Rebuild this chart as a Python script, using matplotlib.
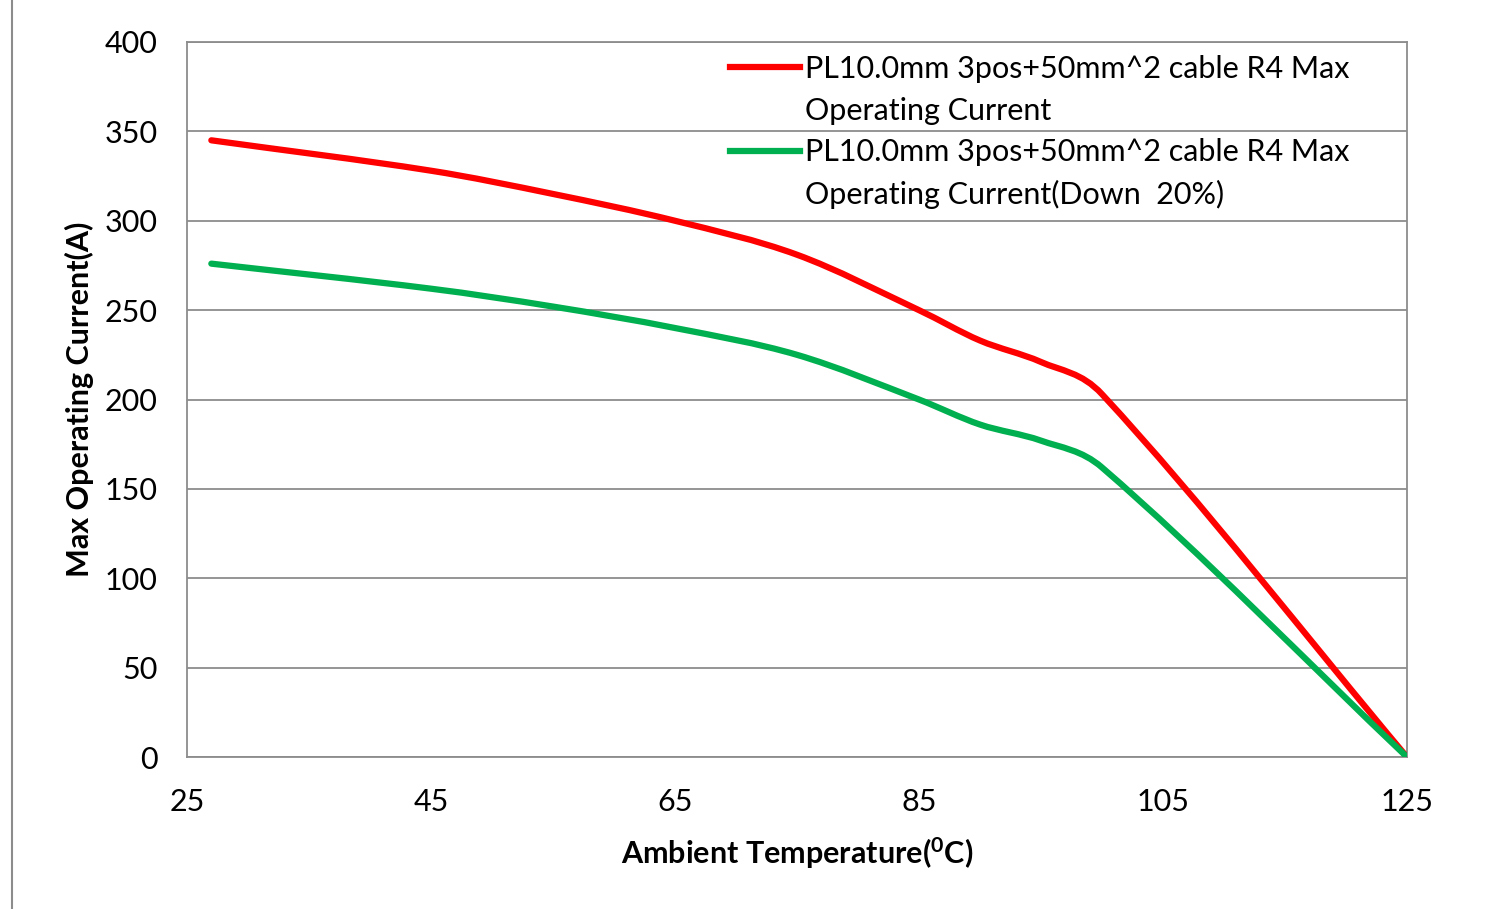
import numpy as np
import matplotlib.pyplot as plt
from matplotlib.path import Path
from matplotlib.patches import PathPatch
from matplotlib.lines import Line2D

plt.rcParams['font.family'] = ['Lato', 'DejaVu Sans']
plt.rcParams['mathtext.default'] = 'regular'

temps = [27, 45, 55, 65, 75, 85, 90, 95, 100, 125]
max_current = [345, 328, 315, 300, 281, 250, 233, 221, 203, 0]
down_20 = [276, 262, 252, 240, 225, 200, 186, 177, 162, 0]

label_a = 'PL10.0mm 3pos+50mm^2 cable R4 Max'
label_b = ['Operating Current', 'Operating Current(Down  20%)']
colors = ['#ff0000', '#00b050']


def smooth_path(xs, ys):
    # monotone-in-x bezier through the points (excel-like smoothing)
    xs = np.asarray(xs, float)
    ys = np.asarray(ys, float)
    n = len(xs)
    m = np.zeros(n)
    for i in range(n):
        a = max(i - 1, 0)
        b = min(i + 1, n - 1)
        m[i] = (ys[b] - ys[a]) / (xs[b] - xs[a])
    verts = [(xs[0], ys[0])]
    codes = [Path.MOVETO]
    for i in range(n - 1):
        h = (xs[i + 1] - xs[i]) / 3.0
        verts += [(xs[i] + h, ys[i] + m[i] * h),
                  (xs[i + 1] - h, ys[i + 1] - m[i + 1] * h),
                  (xs[i + 1], ys[i + 1])]
        codes += [Path.CURVE4] * 3
    return Path(verts, codes)


fig = plt.figure(figsize=(14.99, 9.09), dpi=100)
ax = fig.add_axes([0.1247, 0.1672, 0.8139, 0.7866])

for ys, c in zip([max_current, down_20], colors):
    ax.add_patch(PathPatch(smooth_path(temps, ys), fill=False, edgecolor=c,
                           lw=4.5, capstyle='round', joinstyle='round', zorder=3))

ax.set_xlim(25, 125)
ax.set_ylim(0, 400)
ax.set_xticks(range(25, 126, 20))
ax.set_yticks(range(0, 401, 50))
ax.grid(axis='y', color='#8c8c8c', lw=1.3)
ax.set_axisbelow(True)
for s in ax.spines.values():
    s.set_color('#8c8c8c')
    s.set_linewidth(1.3)
ax.tick_params(length=0, labelsize=22, colors='black')
ax.tick_params(axis='y', pad=21)
ax.tick_params(axis='x', pad=22)

ax.set_xlabel('Ambient Temperature($^{0}$C)', fontsize=22, fontweight='bold', labelpad=14)
ax.set_ylabel('Max Operating Current(A)', fontsize=22, fontweight='bold', labelpad=8)

blank = Line2D([], [], color='none')
handles = [Line2D([], [], color=colors[0], lw=4.5), blank,
           Line2D([], [], color=colors[1], lw=4.5), blank]
labels = [label_a, label_b[0], label_a, label_b[1]]
leg = ax.legend(handles, labels, loc='upper left', bbox_to_anchor=(0.445, 0.982),
                frameon=False, fontsize=22, handlelength=2.3, handletextpad=0.15,
                labelspacing=0.45, borderpad=0, borderaxespad=0)

fig.add_artist(Line2D([0.008, 0.008], [0.0, 1.0], color='#8c8c8c', lw=1.5))

fig.savefig('out.png', dpi=100)
